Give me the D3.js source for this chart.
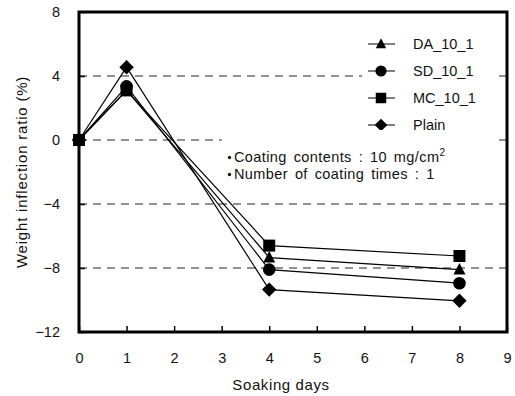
<!DOCTYPE html>
<html>
<head>
<meta charset="utf-8">
<script src="https://cdn.jsdelivr.net/npm/d3@7"></script>
<style>
  html, body { margin: 0; padding: 0; background: #fff; }
  svg { display: block; font-family: "Liberation Sans", Arial, sans-serif; }
</style>
</head>
<body>
<svg id="chart" width="515" height="396"></svg>
<script>
// Soaking days at which weight was measured
const days = [0, 1, 4, 8];
// Weight inflection ratio (%) per specimen
const seriesNames = ["DA_10_1", "SD_10_1", "MC_10_1", "Plain"];
const daValues    = [0, 3.1, -7.35, -8.1];
const sdValues    = [0, 3.35, -8.1, -8.95];
const mcValues    = [0, 3.1, -6.6, -7.25];
const plainValues = [0, 4.55, -9.35, -10.05];
const markerKinds = ["triangle", "circle", "square", "diamond"];
const xTicks = [0, 1, 2, 3, 4, 5, 6, 7, 8, 9];
const yTicks = [-12, -8, -4, 0, 4, 8];
const gridValues = [-8, -4, 0, 4];
const notes = ["Coating contents : 10 mg/cm", "Number of coating times : 1"];

const series = [daValues, sdValues, mcValues, plainValues].map((vals, i) => ({
  name: seriesNames[i],
  kind: markerKinds[i],
  points: days.map((d, j) => ({ x: d, y: vals[j] }))
}));

// Marker shapes; the diamond is a square turned 45 degrees
function markerPath(kind, s) {
  const h = s / 2;
  if (kind === "triangle") return `M0,${-h * 1.1}L${h},${h * 0.8}L${-h},${h * 0.8}Z`;
  if (kind === "square") return `M${-h},${-h}H${h}V${h}H${-h}Z`;
  if (kind === "diamond") { const r = h * 1.2; return `M0,${-r}L${r},0L0,${r}L${-r},0Z`; }
  return d3.arc()({ innerRadius: 0, outerRadius: h * 1.05, startAngle: 0, endAngle: 2 * Math.PI });
}

const svg = d3.select("#chart");
const margin = { left: 79, right: 8, top: 12, bottom: 64 };
const W = 515, H = 396;
const x = d3.scaleLinear().domain([0, 9]).range([margin.left, W - margin.right]);
const y = d3.scaleLinear().domain([-12, 8]).range([H - margin.bottom, margin.top]);

// Dashed horizontal reference lines
svg.append("g").selectAll("line").data(gridValues).join("line")
  .attr("x1", x(0)).attr("x2", x(9))
  .attr("y1", d => y(d)).attr("y2", d => y(d))
  .attr("stroke", "#222").attr("stroke-width", 1)
  .attr("stroke-dasharray", "8,6");

// Axes with inward ticks
const xAxis = svg.append("g").attr("transform", `translate(0,${y(-12)})`)
  .call(d3.axisBottom(x).tickValues(xTicks).tickSizeInner(-6).tickSizeOuter(0).tickPadding(21));
const yAxis = svg.append("g").attr("transform", `translate(${x(0)},0)`)
  .call(d3.axisLeft(y).tickValues(yTicks).tickSizeInner(-6).tickSizeOuter(0).tickPadding(19)
    .tickFormat(d => d < 0 ? "\u2212" + Math.abs(d) : d));
[xAxis, yAxis].forEach(g => {
  g.select(".domain").remove();
  g.selectAll(".tick line").attr("stroke", "#000").attr("stroke-width", 1.5);
  g.selectAll(".tick text").attr("font-size", 14.5).attr("fill", "#111")
    .attr("font-family", "Liberation Sans, Arial, sans-serif");
});

// Legend box (covers the dashed line underneath)
const lg = svg.append("g");
lg.append("rect").attr("x", 362).attr("y", 28).attr("width", 133).attr("height", 110).attr("fill", "#fff");
series.forEach((s, i) => {
  const cy = 44 + i * 27;
  lg.append("line").attr("x1", 368).attr("x2", 395).attr("y1", cy).attr("y2", cy)
    .attr("stroke", "#000").attr("stroke-width", 1);
  lg.append("path").attr("d", markerPath(s.kind, 10.5))
    .attr("transform", `translate(381,${cy})`).attr("fill", "#000");
  lg.append("text").attr("x", 413).attr("y", cy + 5).attr("font-size", 14.5).attr("fill", "#111")
    .text(s.name);
});

// Notes box
const nb = svg.append("g");
nb.append("rect").attr("x", 222).attr("y", 130).attr("width", 272).attr("height", 56).attr("fill", "#fff");
notes.forEach((t, i) => {
  const ty = 162 + i * 17;
  nb.append("circle").attr("cx", 229.5).attr("cy", ty - 4.5).attr("r", 1.7).attr("fill", "#111");
  const txt = nb.append("text").attr("x", 234).attr("y", ty).attr("font-size", 14.5)
    .attr("letter-spacing", 0.4).attr("word-spacing", 2.5).attr("fill", "#111").text(t);
  if (i === 0) txt.append("tspan").attr("dy", -6).attr("font-size", 10).text("2");
});

// Plot frame
svg.append("rect").attr("x", x(0)).attr("y", y(8))
  .attr("width", x(9) - x(0)).attr("height", y(-12) - y(8))
  .attr("fill", "none").attr("stroke", "#000").attr("stroke-width", 3);

// Series lines and markers
const line = d3.line().x(d => x(d.x)).y(d => y(d.y));
series.forEach(s => {
  svg.append("path").datum(s.points).attr("d", line)
    .attr("fill", "none").attr("stroke", "#000").attr("stroke-width", 1.2);
});
series.forEach(s => {
  svg.append("g").selectAll("path").data(s.points).join("path")
    .attr("d", markerPath(s.kind, 12))
    .attr("transform", d => `translate(${x(d.x)},${y(d.y)})`)
    .attr("fill", "#000");
});

// Axis titles
svg.append("text").attr("x", 281).attr("y", 390).attr("text-anchor", "middle")
  .attr("font-size", 15).attr("letter-spacing", 0.6).attr("fill", "#111").text("Soaking days");
svg.append("text").attr("transform", `translate(27,${y(-2)}) rotate(-90)`).attr("text-anchor", "middle")
  .attr("font-size", 15).attr("letter-spacing", 0.8).attr("fill", "#111").text("Weight inflection ratio (%)");
</script>
</body>
</html>
